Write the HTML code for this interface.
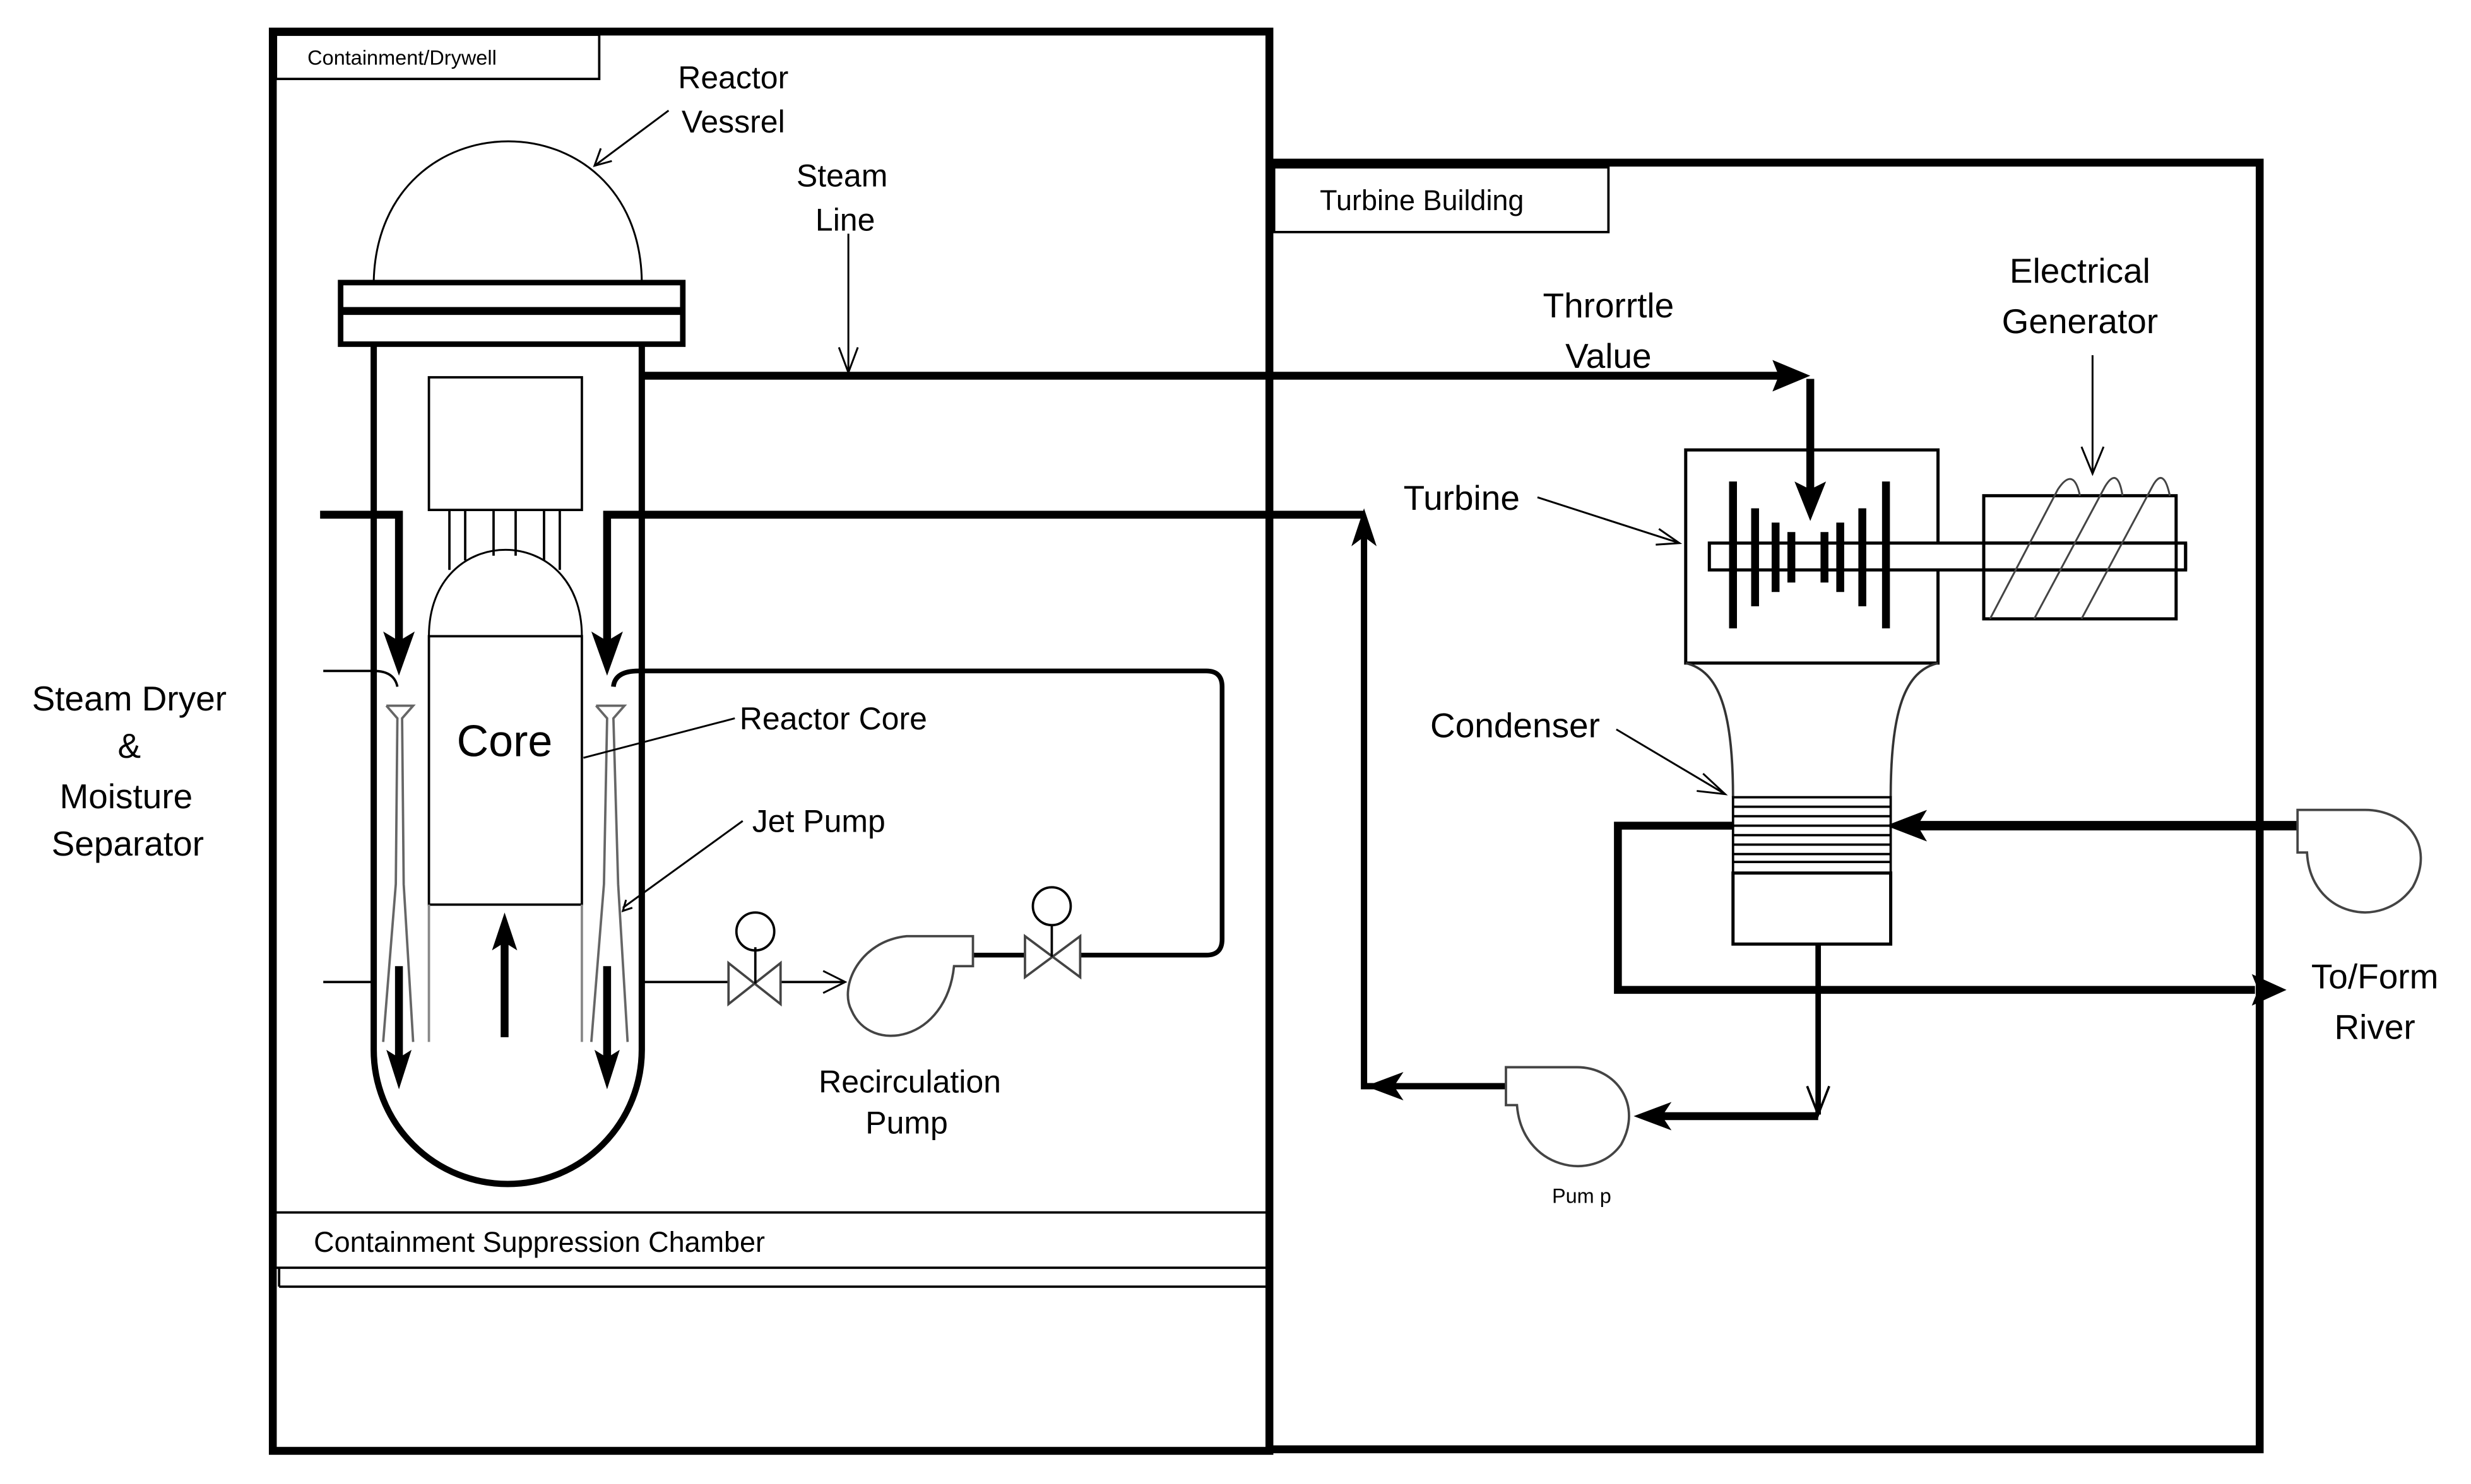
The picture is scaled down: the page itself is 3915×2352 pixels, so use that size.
<!DOCTYPE html>
<html><head><meta charset="utf-8"><style>
html,body{margin:0;padding:0;background:#fff;}
svg{display:block;}
text{font-family:"Liberation Sans Narrow","Liberation Sans",sans-serif;fill:#000;}
</style></head><body>
<svg width="3915" height="2352" viewBox="0 0 1567 940" preserveAspectRatio="none" xmlns="http://www.w3.org/2000/svg">
<rect width="1567" height="940" fill="#fff"/>
<g fill="none" stroke="#000">
<rect x="173" y="20" width="632" height="899" stroke-width="5"/>
<rect x="175" y="22" width="205" height="28" stroke-width="1.5"/>
<line x1="173" y1="768" x2="803" y2="768" stroke-width="1.5"/>
<line x1="173" y1="803" x2="803" y2="803" stroke-width="1.5"/>
<line x1="177" y1="815" x2="803" y2="815" stroke-width="1.5"/>
<line x1="177" y1="803" x2="177" y2="815" stroke-width="1.5"/>
<polyline points="805,103 1433,103 1433,918 805,918" stroke-width="5"/>
<rect x="808" y="106" width="212" height="41" stroke-width="1.5"/>
<path d="M237,178 C240,60 405,60 407,178" stroke-width="1.2"/>
<rect x="216" y="179" width="217" height="39" stroke-width="3.5"/>
<line x1="216" y1="197" x2="433" y2="197" stroke-width="5"/>
<path d="M237,218 L237,665 A85,85 0 0 0 407,665 L407,218" stroke-width="4"/>
<rect x="272" y="239" width="97" height="84" stroke-width="1.5"/>
<line x1="285" y1="323" x2="285" y2="361" stroke-width="1.5"/>
<line x1="295" y1="323" x2="295" y2="355" stroke-width="1.5"/>
<line x1="313" y1="323" x2="313" y2="352" stroke-width="1.5"/>
<line x1="327" y1="323" x2="327" y2="352" stroke-width="1.5"/>
<line x1="345" y1="323" x2="345" y2="355" stroke-width="1.5"/>
<line x1="355" y1="323" x2="355" y2="361" stroke-width="1.5"/>
<path d="M272,403 C272,330 369,330 369,403" stroke-width="1.2"/>
<rect x="272" y="403" width="97" height="170" stroke-width="1.5"/>
<line x1="272" y1="573" x2="272" y2="660" stroke="#888" stroke-width="1.5"/>
<line x1="369" y1="573" x2="369" y2="660" stroke="#888" stroke-width="1.5"/>
<path d="M245,447 L262,447 L255,455 L256,560 L262,660 M245,447 L252,455 L251,560 L243,660" stroke="#666" stroke-width="1.5"/>
<path d="M378,447 L396,447 L389,455 L392,560 L398,660 M378,447 L385,455 L383,560 L375,660" stroke="#666" stroke-width="1.5"/>
<path d="M205,425 L237,425 Q250,425 252,435" stroke-width="1.5"/>
<path d="M389,435 Q390,425 405,425 L765,425 Q775,425 775,435 L775,595 Q775,605 765,605 L685,605" stroke-width="3"/>
<line x1="205" y1="622" x2="237" y2="622" stroke-width="1.5"/>
<line x1="407" y1="622" x2="462" y2="622" stroke-width="1.5"/>
<line x1="495" y1="622" x2="535" y2="622" stroke-width="1.5"/>
<path d="M522,615 L536,622 L522,629" stroke-width="1.2"/>
<line x1="617" y1="605" x2="650" y2="605" stroke-width="3"/>
<path d="M462,610 L495,636 L495,610 L462,636 Z" stroke="#444" stroke-width="1.5"/>
<line x1="479" y1="623" x2="479" y2="600" stroke-width="1.5"/>
<ellipse cx="479" cy="590" rx="12" ry="12" stroke-width="1.5"/>
<path d="M650,593 L685,619 L685,593 L650,619 Z" stroke="#444" stroke-width="1.5"/>
<line x1="667" y1="606" x2="667" y2="586" stroke-width="1.5"/>
<ellipse cx="667" cy="574" rx="12" ry="12" stroke-width="1.5"/>
<path d="M617,593 L575,593 C545,596 532,625 540,640 C552,668 600,660 605,612 L617,612 Z" stroke="#444" stroke-width="1.5"/>
<line x1="407" y1="238" x2="1135" y2="238" stroke-width="5"/>
<line x1="1148" y1="240" x2="1148" y2="315" stroke-width="5"/>
<polyline points="203,326 253,326 253,410" stroke-width="5"/>
<polyline points="865,326 385,326 385,410" stroke-width="5"/>
<line x1="253" y1="612" x2="253" y2="675" stroke-width="5"/>
<line x1="385" y1="612" x2="385" y2="675" stroke-width="5"/>
<line x1="320" y1="657" x2="320" y2="595" stroke-width="5"/>
<line x1="538" y1="148" x2="538" y2="236" stroke-width="1.2"/>
<path d="M532,220 L538,236 L544,220" stroke-width="1.2"/>
<line x1="424" y1="70" x2="377" y2="105" stroke-width="1.2"/>
<path d="M381,94 L377,105 L388,102" stroke-width="1.2"/>
<line x1="466" y1="455" x2="370" y2="480" stroke-width="1.2"/>
<line x1="471" y1="520" x2="395" y2="575" stroke-width="1.2"/>
<path d="M397,570 L395,577 L401,575" stroke-width="1.2"/>
<rect x="1069" y="285" width="160" height="135" stroke-width="2"/>
<rect x="1084" y="344" width="302" height="17" stroke-width="2" fill="#fff"/>
<rect x="1258" y="314" width="122" height="78" stroke-width="2"/>
<rect x="1259" y="345" width="120" height="15" fill="#fff" stroke="none"/>
<line x1="1258" y1="344" x2="1380" y2="344" stroke-width="2"/>
<line x1="1258" y1="361" x2="1380" y2="361" stroke-width="2"/>
<path d="M1262,392 L1305,310 Q1315,295 1319,314 M1290,392 L1335,308 Q1343,295 1346,314 M1320,392 L1365,308 Q1372,295 1376,314" stroke="#444" stroke-width="1.2"/>
<line x1="1386" y1="344" x2="1386" y2="361" stroke-width="2"/>
<g stroke-width="5">
<line x1="1099" y1="305" x2="1099" y2="398"/>
<line x1="1113" y1="322" x2="1113" y2="384"/>
<line x1="1126" y1="331" x2="1126" y2="375"/>
<line x1="1136" y1="337" x2="1136" y2="369"/>
<line x1="1157" y1="337" x2="1157" y2="369"/>
<line x1="1167" y1="331" x2="1167" y2="375"/>
<line x1="1181" y1="322" x2="1181" y2="384"/>
<line x1="1196" y1="305" x2="1196" y2="398"/>
</g>
<path d="M1069,420 C1090,425 1099,450 1099,505 M1229,420 C1208,425 1199,450 1199,505" stroke="#333" stroke-width="1.5"/>
<rect x="1099" y="505" width="100" height="48" stroke-width="1.5"/>
<g stroke-width="1.5">
<line x1="1099" y1="511" x2="1199" y2="511"/>
<line x1="1099" y1="517" x2="1199" y2="517"/>
<line x1="1099" y1="523" x2="1199" y2="523"/>
<line x1="1099" y1="529" x2="1199" y2="529"/>
<line x1="1099" y1="535" x2="1199" y2="535"/>
<line x1="1099" y1="541" x2="1199" y2="541"/>
<line x1="1099" y1="546" x2="1199" y2="546"/>
</g>
<rect x="1099" y="553" width="100" height="45" stroke-width="2"/>
<line x1="1457" y1="523" x2="1215" y2="523" stroke-width="6"/>
<polyline points="1099,523 1026,523 1026,627 1430,627" stroke-width="5"/>
<path d="M1500,513 L1457,513 L1457,540 L1463,540 C1465,580 1510,590 1530,562 C1545,535 1525,513 1500,513" stroke="#444" stroke-width="1.5"/>
<line x1="1153" y1="598" x2="1153" y2="706" stroke-width="3.5"/>
<path d="M1146,688 L1153,706 L1160,688" stroke-width="1.5"/>
<polyline points="1153,707 1050,707" stroke-width="5"/>
<polyline points="955,688 865,688 865,340" stroke-width="4"/>
<path d="M1000,676 L955,676 L955,700 L962,700 C965,740 1010,750 1028,725 C1042,700 1025,676 1000,676" stroke="#444" stroke-width="1.5"/>
<line x1="975" y1="315" x2="1065" y2="344" stroke-width="1.2"/>
<path d="M1052,335 L1065,344 L1050,345" stroke-width="1.2"/>
<line x1="1025" y1="462" x2="1094" y2="503" stroke-width="1.2"/>
<path d="M1080,490 L1094,503 L1076,501" stroke-width="1.2"/>
<line x1="1327" y1="225" x2="1327" y2="300" stroke-width="1.2"/>
<path d="M1320,283 L1327,300 L1334,283" stroke-width="1.2"/>
</g>
<g fill="#000" stroke="none">
<path d="M1148,238 L1124,228 L1128,238 L1124,248 Z"/>
<path d="M1148,330 L1138,305 L1148,310 L1158,305 Z"/>
<path d="M253,428 L243,400 L253,406 L263,400 Z"/>
<path d="M385,428 L375,400 L385,406 L395,400 Z"/>
<path d="M253,690 L245,665 L253,670 L261,665 Z"/>
<path d="M385,690 L377,665 L385,670 L393,665 Z"/>
<path d="M320,578 L312,602 L320,597 L328,602 Z"/>
<path d="M865,322 L857,346 L865,340 L873,346 Z"/>
<path d="M1196,523 L1222,513 L1216,523 L1222,533 Z"/>
<path d="M1450,627 L1428,617 L1432,627 L1428,637 Z"/>
<path d="M1036,707 L1060,698 L1054,707 L1060,716 Z"/>
<path d="M866,688 L890,679 L884,688 L890,697 Z"/>
</g>
<text x="195" y="41" font-size="13">Containment/Drywell</text>
<text x="465" y="56" font-size="20" text-anchor="middle">Reactor</text>
<text x="465" y="84" font-size="20" text-anchor="middle">Vessrel</text>
<text x="534" y="118" font-size="20" text-anchor="middle">Steam</text>
<text x="536" y="146" font-size="20" text-anchor="middle">Line</text>
<text x="82" y="450" font-size="22" text-anchor="middle">Steam Dryer</text>
<text x="82" y="480" font-size="22" text-anchor="middle">&amp;</text>
<text x="80" y="512" font-size="22" text-anchor="middle">Moisture</text>
<text x="81" y="542" font-size="22" text-anchor="middle">Separator</text>
<text x="320" y="479" font-size="28" text-anchor="middle">Core</text>
<text x="469" y="462" font-size="20">Reactor Core</text>
<text x="477" y="527" font-size="20">Jet Pump</text>
<text x="577" y="692" font-size="20" text-anchor="middle">Recirculation</text>
<text x="575" y="718" font-size="20" text-anchor="middle">Pump</text>
<text x="199" y="793" font-size="18">Containment Suppression Chamber</text>
<text x="837" y="133" font-size="18">Turbine Building</text>
<text x="1020" y="201" font-size="22" text-anchor="middle">Throrrtle</text>
<text x="1020" y="233" font-size="22" text-anchor="middle">Value</text>
<text x="1319" y="179" font-size="22" text-anchor="middle">Electrical</text>
<text x="1319" y="211" font-size="22" text-anchor="middle">Generator</text>
<text x="890" y="323" font-size="22">Turbine</text>
<text x="907" y="467" font-size="22">Condenser</text>
<text x="1506" y="626" font-size="22" text-anchor="middle">To/Form</text>
<text x="1506" y="658" font-size="22" text-anchor="middle">River</text>
<text x="1003" y="762" font-size="13" text-anchor="middle">Pum p</text>
</svg>
</body></html>
